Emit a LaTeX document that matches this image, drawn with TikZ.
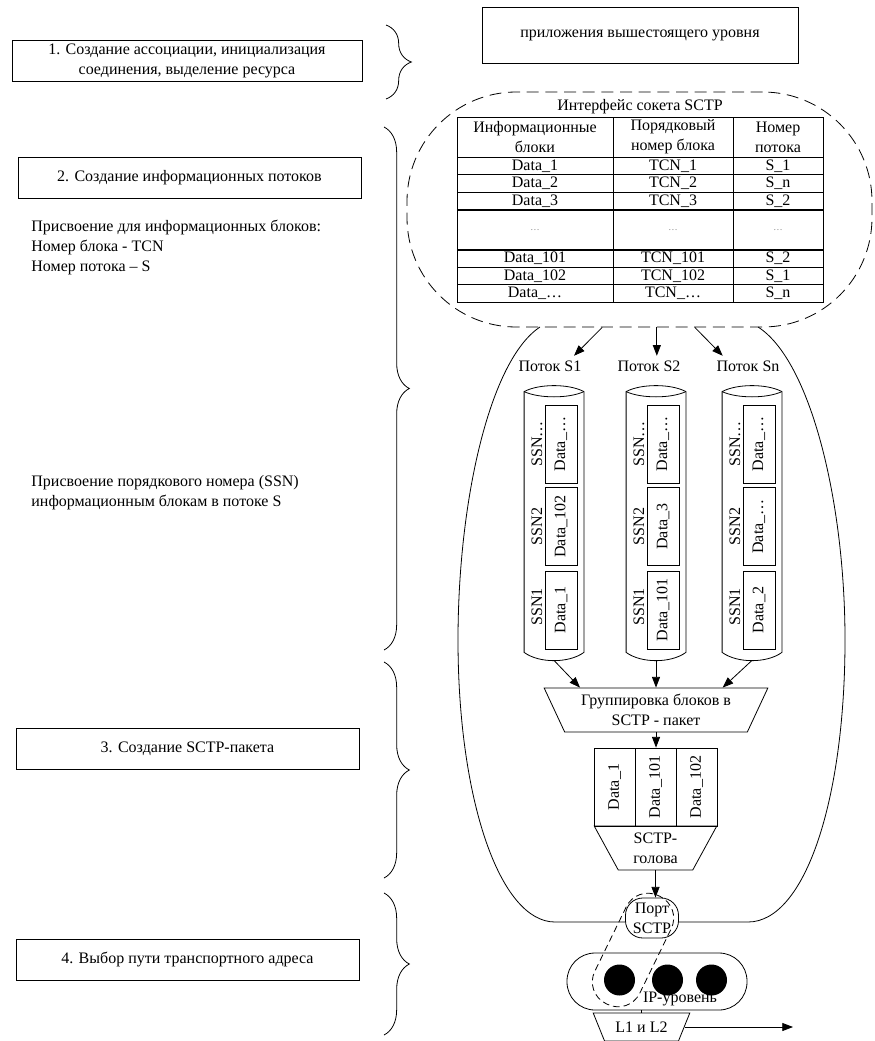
\documentclass[tikz,border=0pt]{standalone}
\usepackage{fontspec}
\setmainfont{Liberation Serif}
\usetikzlibrary{arrows.meta, positioning, shapes.geometric, decorations.pathreplacing, calc}

\begin{document}
\begin{tikzpicture}[
  x=0.75pt, y=-0.75pt, semithick,
  txt/.style={font=\fontsize{12}{15}\selectfont},
  stepbox/.style={draw, txt, minimum width=257.25pt, minimum height=30.75pt,
                  align=center, inner sep=1pt},
  cell/.style={draw, txt, inner sep=0pt, minimum height=13.125pt},
  hcell/.style={cell, minimum height=30pt, align=center},
  dcell/.style={draw, txt, rotate=90, inner sep=0pt, minimum width=58.5pt, minimum height=24pt},
  ssn/.style={txt, rotate=90, inner sep=0pt},
  pcell/.style={draw, txt, rotate=90, inner sep=0pt, minimum width=58.5pt, minimum height=30.75pt},
  trap/.style={draw, txt, trapezium, trapezium stretches=true, align=center, inner sep=0pt},
  ipdot/.style={circle, fill=black, minimum size=23.25pt, inner sep=0pt},
  brc/.style={decorate, decoration={brace, amplitude=19pt}},
  >={Triangle[length=8pt, width=6pt]}
]
  \useasboundingbox (0,0) rectangle (874,1041);

  % Steps (left column)
  \node[stepbox, minimum width=262.5pt] (st1) at (187,60.5) {1. Создание ассоциации, инициализация\\соединения, выделение ресурса};
  \node[stepbox] (st2) at (189.5,177.5) {2. Создание информационных потоков};
  \node[txt, align=left, anchor=west, inner sep=0pt] (asg1) at (31,247.5)
       {Присвоение для информационных блоков:\\Номер блока - TCN\\Номер потока – S};
  \node[txt, align=left, anchor=west, inner sep=0pt] (asg2) at (31,493)
       {Присвоение порядкового номера (SSN)\\информационным блокам в потоке S};
  \node[stepbox] (st3) at (187.5,749) {3. Создание SCTP-пакета};
  \node[stepbox] (st4) at (187.5,959.5) {4. Выбор пути транспортного адреса};

  % Braces
  \draw[brc] (386,25) -- (386,99);
  \draw[brc] (384,127) -- (384,650);
  \draw[brc] (384,662) -- (384,878);
  \draw[brc] (384,893) -- (384,1035);

  % Outer SCTP association shape
  \draw (540,327) .. controls (490,360) and (458,500) .. (458,640)
        .. controls (458,800) and (500,922) .. (555,922) -- (748,922)
        .. controls (805,922) and (845,800) .. (845,640)
        .. controls (845,500) and (810,360) .. (758,327);

  % Application and socket interface
  \node[draw, txt, minimum width=237pt, minimum height=42pt] (app) at (640,35) {приложения вышестоящего уровня};
  \node[draw, dashed, dash pattern=on 9pt off 5pt, rounded corners=82pt,
        minimum width=348.75pt, minimum height=176.25pt] (iface) at (639.5,209.5) {};
  \node[txt] (ifl) at (640,107) {Интерфейс сокета SCTP};

  % Table
  \node[hcell, minimum width=117pt] (h1) at (535,137) {Информационные\\блоки};
  \node[hcell, minimum width=90pt] (h2) at (673,137) {Порядковый\\номер блока};
  \node[hcell, minimum width=67.5pt] (h3) at (778,137) {Номер\\потока};
  \foreach \y/\a/\b/\c [count=\i] in {166/Data\_1/TCN\_1/S\_1, 183.5/Data\_2/TCN\_2/S\_n,
      201/Data\_3/TCN\_3/S\_2, 258.5/Data\_101/TCN\_101/S\_2, 276/Data\_102/TCN\_102/S\_1,
      293.5/Data\_\ldots/TCN\_\ldots/S\_n} {
    \node[cell, minimum width=117pt] (ta\i) at (535,\y) {\a};
    \node[cell, minimum width=90pt] (tb\i) at (673,\y) {\b};
    \node[cell, minimum width=67.5pt] (tc\i) at (778,\y) {\c};
  }
  \node[cell, minimum height=30pt, minimum width=117pt, font=\scriptsize, text=gray] (ea) at (535,230) {\ldots};
  \node[cell, minimum height=30pt, minimum width=90pt, font=\scriptsize, text=gray] (eb) at (673,230) {\ldots};
  \node[cell, minimum height=30pt, minimum width=67.5pt, font=\scriptsize, text=gray] (ec) at (778,230) {\ldots};

  % Streams
  \node[txt] (pS1) at (550,366) {Поток S1};
  \node[txt] (pS2) at (649,366) {Поток S2};
  \node[txt] (pSn) at (748,366) {Поток Sn};
  \draw[->] ([xshift=-28pt]iface.south) -- ([xshift=18pt]pS1.north);
  \draw[->] ([xshift=13pt]iface.south) -- ([xshift=13pt]iface.south |- pS2.north);
  \draw[->] ([xshift=41.5pt]iface.south) -- ([xshift=-19pt]pSn.north);

  \foreach \n/\x/\a/\b/\c/\s in {1/554/Data\_\ldots/Data\_102/Data\_1/1,
      2/656/Data\_\ldots/Data\_3/Data\_101/2, 3/752/Data\_\ldots/Data\_\ldots/Data\_2/n} {
    \node[minimum width=44.25pt, minimum height=205.5pt, inner sep=0pt] (cyl\n) at (\x,523) {};
    \draw ($(cyl\n.north west)+(0,6)$) -- ($(cyl\n.south west)+(0,-8)$)
       .. controls ($(cyl\n.south west)+(15,3)$) and ($(cyl\n.south east)+(-15,3)$) .. ($(cyl\n.south east)+(0,-8)$)
       -- ($(cyl\n.north east)+(0,6)$)
       .. controls ($(cyl\n.north east)+(-15,-2)$) and ($(cyl\n.north west)+(15,-2)$) .. cycle;
    \draw ($(cyl\n.north west)+(0,6)$) .. controls ($(cyl\n.north west)+(15,13)$)
       and ($(cyl\n.north east)+(-15,13)$) .. ($(cyl\n.north east)+(0,6)$);
    \node[dcell] (ca\n) at (\x+7,444) {\a};
    \node[dcell] (cb\n) at (\x+7,526.5) {\b};
    \node[dcell] (cc\n) at (\x+7,610) {\c};
    \node[ssn] (sa\n) at (\x-17,444) {SSN\ldots};
    \node[ssn] (sb\n) at (\x-17,526.5) {SSN2};
    \node[ssn] (sc\n) at (\x-17,607) {SSN1};
  }

  % Packet assembly
  \node[trap, trapezium left angle=118, trapezium right angle=118, minimum width=168pt,
        minimum height=33pt] (grp) at (656,710) {Группировка блоков в\\SCTP - пакет};
  \draw[->] (cyl1.south) -- ([xshift=-57pt]grp.north);
  \draw[->] (cyl2.south) -- (cyl2.south |- grp.north);
  \draw[->] (cyl3.south) -- ([xshift=50pt]grp.north);

  \node[pcell] (pk1) at (614.5,787) {Data\_1};
  \node[pcell] (pk2) at (655.5,787) {Data\_101};
  \node[pcell] (pk3) at (696.5,787) {Data\_102};
  \draw[->] (grp.south) -- (grp.south |- pk2.east);
  \node[trap, trapezium left angle=115, trapezium right angle=115, minimum width=92.25pt,
        minimum height=33pt] (head) at (655.5,848) {SCTP-\\голова};

  % Port, IP level, link layer
  \node[draw, fill=white, txt, rounded corners=13pt, minimum width=39.75pt, minimum height=30pt,
        inner sep=0pt, align=center] (port) at (652,918) {Порт\\SCTP};
  \draw[->] (head.south) -- (head.south |- port.north);
  \node[draw, rounded corners=21pt, minimum width=135pt, minimum height=42.75pt] (ip) at (657,981.5) {};
  \foreach \x [count=\i] in {619.5,667.5,711.5}
    \node[ipdot] (ipd\i) at (\x,980) {};
  \node[txt, inner sep=0pt] (ipl) at (680,999) {IP-уровень};
  \node[draw, dashed, dash pattern=on 5pt off 3pt, rounded corners=18pt, minimum width=90pt,
        minimum height=37.5pt, rotate=64] (route) at (633,950) {};
  \node[trap, trapezium left angle=127, trapezium right angle=127, minimum width=72.75pt,
        minimum height=21pt] (link) at (641.5,1027) {L1 и L2};
  \draw (link.north) -- (link.north |- ip.south);
  \coordinate (out) at (793,1027);
  \draw[->] (link.east) -- (link.east -| out);
\end{tikzpicture}
\end{document}
